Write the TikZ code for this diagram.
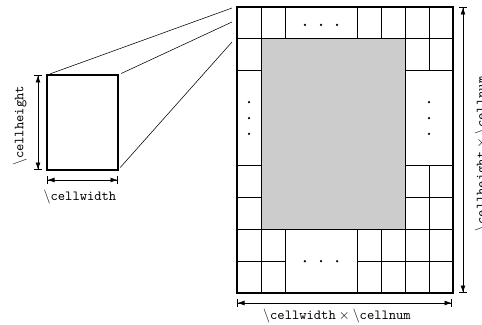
\documentclass[tikz,border=0pt]{standalone}
\usepackage{tikz}
\usetikzlibrary{arrows.meta, calc}
\definecolor{fillGray}{HTML}{CCCCCC}
\tikzset{
  dimline/.style={{Bar[width=6pt]Latex[length=5pt,width=3.5pt]}-{Latex[length=5pt,width=3.5pt]Bar[width=6pt]}, thin},
  gridline/.style={semithick},
  dimtext/.style={font=\ttfamily, inner sep=1pt}
}
\begin{document}
\begin{tikzpicture}[x=0.72pt, y=0.72pt]
    \useasboundingbox (0,0) rectangle (482,324);
    % one cell, enlarged
    \coordinate (cellSW) at (47,154);
    \coordinate (cellNE) at (118,249);
    \coordinate (cellNW) at (47,249);
    \coordinate (cellSE) at (118,154);
    \draw[thick] (cellSW) rectangle (cellNE);
    \draw[dimline] (38,154) -- (38,249);
    \node[dimtext, rotate=90] (hlabel) at (20,198) {$\backslash$cellheight};
    \draw[dimline] (47,144) -- (118,144);
    \node[dimtext] (wlabel) at (80,127) {$\backslash$cellwidth};
    % zoom lines
    \coordinate (zoomA) at (232,316);
    \coordinate (zoomB) at (232,302);
    \coordinate (zoomC) at (232,282);
    \draw[shorten <=2.5pt] (cellNW) -- (zoomA);
    \draw[shorten <=2.5pt] (cellNE) -- (zoomB);
    \draw[shorten <=2.5pt] (cellSE) -- (zoomC);
    % the cell grid
    \begin{scope}[shift={(237,31)}, x=17.28pt, y=22.9pt]
        \fill[fillGray] (1,2) rectangle (7,8);
        \draw[gridline] (1,2) rectangle (7,8);
        \draw[gridline] (0,8) -- (9,8) (0,2) -- (9,2);
        \draw[gridline] (0,7) -- (1,7) (7,7) -- (9,7);
        \foreach \y in {3,4} \draw[gridline] (0,\y) -- (1,\y) (7,\y) -- (9,\y);
        \draw[gridline] (0,1) -- (2,1) (5,1) -- (9,1);
        \foreach \x in {1,2,5,6,7,8} \draw[gridline] (\x,0) -- (\x,2) (\x,8) -- (\x,9);
        \draw[gridline] (8,7) -- (8,8) (8,2) -- (8,4);
        \draw[very thick] (0,0) rectangle (9,9);
        \foreach \x in {2.83, 3.5, 4.17} \fill (\x,8.43) circle (0.9pt) (\x,1) circle (0.9pt);
        \foreach \y in {5, 5.5, 6} \fill (0.5,\y) circle (0.9pt) (8,\y) circle (0.9pt);
    \end{scope}
    \draw[dimline] (237,21) -- (452,21);
    \node[dimtext] (nwlabel) at (337,8) {$\backslash$cellwidth${}\times{}\backslash$cellnum};
    \draw[dimline] (463,31) -- (463,317);
    \node[dimtext, rotate=90] (nhlabel) at (482,170) {$\backslash$cellheight${}\times{}\backslash$cellnum};
\end{tikzpicture}
\end{document}
